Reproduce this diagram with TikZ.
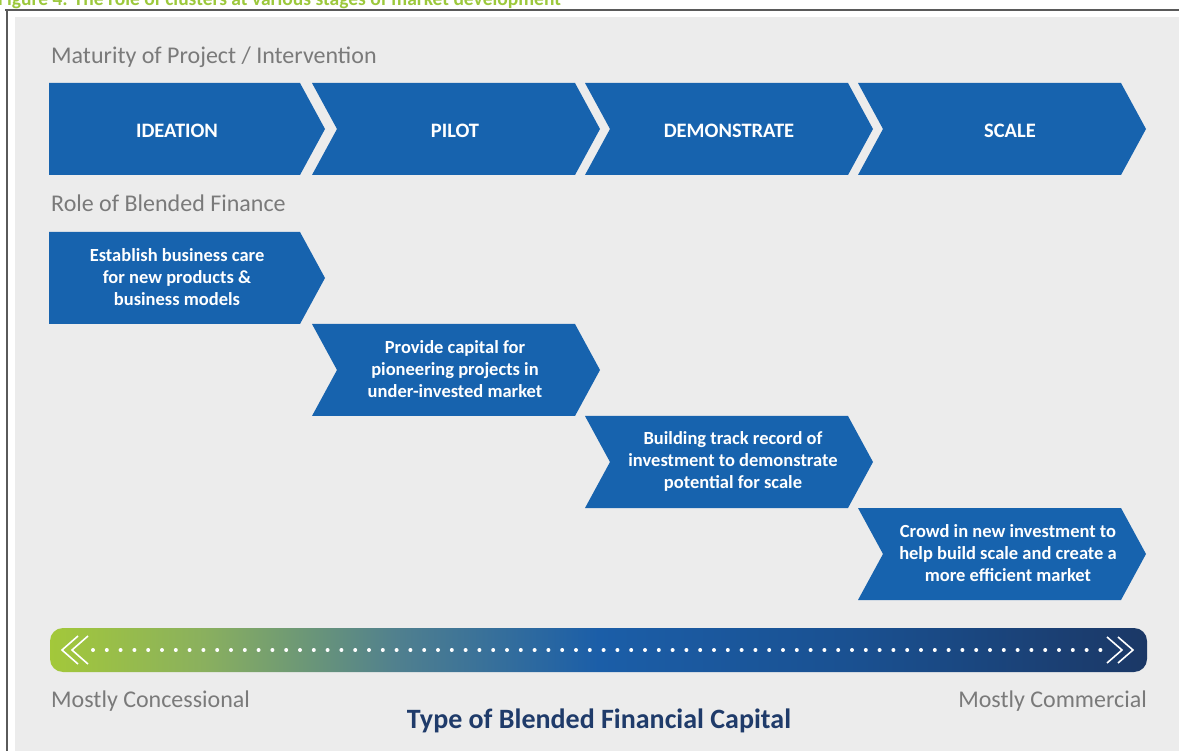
\documentclass[tikz,border=0pt]{standalone}
\usepackage{fontspec}
\setmainfont{Carlito}
\usepackage{tikz}

\definecolor{finBlue}{HTML}{1763AE}
\definecolor{panelGray}{HTML}{ECECEC}
\definecolor{frameGray}{HTML}{5A5A5A}
\definecolor{capGreen}{HTML}{9CC83C}
\definecolor{headGray}{HTML}{7A7A7A}
\definecolor{titleNavy}{HTML}{1F3B6A}
\definecolor{barGreen}{HTML}{A3C83A}
\definecolor{barOlive}{HTML}{8AB05E}
\definecolor{barTeal}{HTML}{4F7F8F}
\definecolor{barBlue}{HTML}{1B5EA8}
\definecolor{barMid}{HTML}{1A5090}
\definecolor{barNavy}{HTML}{1B3866}

\pgfdeclarehorizontalshading{finshade}{100bp}{color(0bp)=(barGreen); color(25bp)=(barGreen);
  color(32bp)=(barOlive); color(41bp)=(barTeal); color(50bp)=(barBlue);
  color(62bp)=(barMid); color(75bp)=(barNavy); color(100bp)=(barNavy)}

\begin{document}
\begin{tikzpicture}[x=1pt,y=-1pt,
    heading/.style={anchor=base west, inner sep=0pt, text=headGray,
      font=\fontsize{24}{28}\selectfont},
    stagebox/.style={fill=finBlue},
    stagelabel/.style={text=white, font=\bfseries\fontsize{20.5}{24}\selectfont},
    rolelabel/.style={text=white, align=center, inner sep=0pt,
      font=\bfseries\fontsize{18.5}{22}\selectfont},
    arrowline/.style={white, line width=1.6pt}]
  \useasboundingbox (0,0) rectangle (1179,751);

  % frame and caption
  \begin{scope}
    \clip (0,0) rectangle (1179,751);
    \node[anchor=base west, inner sep=0pt, text=capGreen,
      font=\bfseries\fontsize{19.5}{22}\selectfont] (caption) at (-2,6)
      {Figure 4: The role of clusters at various stages of market development};
  \end{scope}
  \draw[frameGray, line width=2.2pt] (5,10) -- (1179,10);
  \draw[frameGray, line width=2pt] (7,10) -- (7,751);
  \fill[panelGray] (15,17) rectangle (1179,751);

  % maturity
  \node[heading] (maturity) at (51,64) {Maturity of Project / Intervention};

  \fill[stagebox] (49,83) -- ++(251,0) -- ++(25,46) -- ++(-25,46) -- ++(-251,0) -- cycle;
  \foreach \x in {312,585,858}
    \fill[stagebox] (\x,83) -- ++(263,0) -- ++(25,46) -- ++(-25,46) -- ++(-263,0)
      -- ++(25,-46) -- cycle;

  \node[stagelabel] (ideation) at (177,131) {IDEATION};
  \node[stagelabel] (pilot) at (455,131) {PILOT};
  \node[stagelabel] (demonstrate) at (729,131) {DEMONSTRATE};
  \node[stagelabel] (scale) at (1010,131) {SCALE};

  % role of blended finance
  \node[heading] (role) at (51,212) {Role of Blended Finance};

  \fill[stagebox] (49,232) -- ++(251,0) -- ++(25,46) -- ++(-25,46) -- ++(-251,0) -- cycle;
  \foreach \x/\y in {312/324,585/416,858/508}
    \fill[stagebox] (\x,\y) -- ++(263,0) -- ++(25,46) -- ++(-25,46) -- ++(-263,0)
      -- ++(25,-46) -- cycle;

  \node[rolelabel] (establish) at (177,277)
    {Establish business care\\for new products \&\\business models};
  \node[rolelabel] (provide) at (455,369)
    {Provide capital for\\pioneering projects in\\under-invested market};
  \node[rolelabel] (building) at (733,461)
    {Building track record of\\investment to demonstrate\\potential for scale};
  \node[rolelabel] (crowd) at (1008,553)
    {Crowd in new investment to\\help build scale and create a\\more efficient market};

  % type of capital
  \shade[shading=finshade, rounded corners=13pt] (50,628) rectangle (1147,672);
  \draw[white, line width=4pt, line cap=round, dash pattern=on 0pt off 13.8pt]
    (93,650) -- (1103,650);
  \draw[arrowline] (78,636) -- (62,650) -- (78,664);
  \draw[arrowline] (88,636) -- (72,650) -- (88,664);
  \draw[arrowline] (1107,637) -- (1122,650) -- (1107,663);
  \draw[arrowline] (1118,637) -- (1133,650) -- (1118,663);

  \node[heading] (concessional) at (51,707) {Mostly Concessional};
  \node[heading, anchor=base east] (commercial) at (1147,707) {Mostly Commercial};
  \node[anchor=base, inner sep=0pt, text=titleNavy,
    font=\bfseries\fontsize{28}{32}\selectfont] (capital) at (599,728)
    {Type of Blended Financial Capital};
\end{tikzpicture}
\end{document}
